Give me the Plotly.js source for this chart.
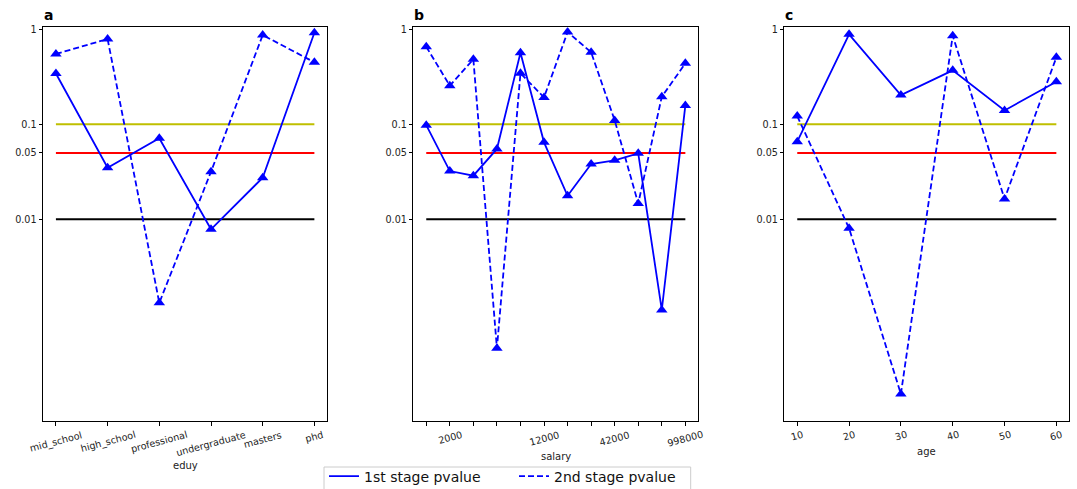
<!DOCTYPE html>
<html>
<head>
<meta charset="utf-8">
<script src="https://cdn.plot.ly/plotly-3.0.1.min.js"></script>
<style>html,body{margin:0;padding:0;background:#fff;}#chart{width:1077px;height:489px;}</style>
</head>
<body>
<div id="chart"></div>
<script>
// ---- data ----
const eduCats = ["mid_school", "high_school", "professional", "undergraduate", "masters", "phd"];
const eduStage1 = [0.343, 0.0349, 0.0712, 0.00785, 0.0274, 0.92];
const eduStage2 = [0.55, 0.79, 0.00132, 0.0317, 0.87, 0.45];

const salaryIdx = [0, 1, 2, 3, 4, 5, 6, 7, 8, 9, 10, 11];
const salaryTickLabels = ["", "2000", "", "", "", "12000", "", "", "42000", "", "", "998000"];
const salaryStage1 = [0.098, 0.0322, 0.0288, 0.055, 0.567, 0.0646, 0.0177, 0.0382, 0.0418, 0.0495, 0.00111, 0.158];
const salaryStage2 = [0.656, 0.255, 0.483, 0.000438, 0.344, 0.192, 0.937, 0.573, 0.110, 0.0147, 0.195, 0.438];

const ages = [10, 20, 30, 40, 50, 60];
const ageStage1 = [0.0656, 0.886, 0.203, 0.37, 0.14, 0.281];
const ageStage2 = [0.122, 0.00804, 0.000145, 0.857, 0.0164, 0.507];

const thresholds = [0.1, 0.05, 0.01];
const thresholdColors = ["#bfbf00", "#ff0000", "#000000"];
const yTickVals = [1, 0.1, 0.05, 0.01];
const yTickText = ["1", "0.1", "0.05", "0.01"];

const panelLetters = ["a", "b", "c"];
const xTitles = ["eduy", "salary", "age"];
const seriesNames = ["1st stage pvalue", "2nd stage pvalue"];

// ---- build ----
const BLUE = "#0000ff";
const font = "DejaVu Sans, sans-serif";
const H = 489, W = 1077;
const TICK = 9.6;
const panels = [
  {x: [0, 1, 2, 3, 4, 5], labels: eduCats, s1: eduStage1, s2: eduStage2, range: [-0.25, 5.25], labY: 427.5},
  {x: salaryIdx, labels: salaryTickLabels, s1: salaryStage1, s2: salaryStage2, range: [-0.55, 11.55], labY: 427.5},
  {x: ages, labels: ages.map(String), s1: ageStage1, s2: ageStage2, range: [7.5, 62.5], labY: 427.5}
];
const doms = [[43/W, 327.3/W], [413.3/W, 698.3/W], [784.3/W, 1069.3/W]];
const yDom = [(H-421)/H, (H-27.3)/H];

const traces = [];
const shapes = [];
const annotations = [];
const layout = {
  width: W, height: H,
  margin: {l: 0, r: 0, t: 0, b: 0, pad: 0, autoexpand: false},
  paper_bgcolor: "#fff", plot_bgcolor: "#fff",
  font: {family: font, size: TICK, color: "#222"},
  showlegend: true,
  legend: {orientation: "h", x: 324 / W, xanchor: "left", y: (H - 460.5) / H, yanchor: "top",
           borderwidth: 0, font: {size: 14, family: font, color: "#111"},
           bgcolor: "rgba(0,0,0,0)", itemwidth: 30, entrywidth: 145},
};

panels.forEach((p, i) => {
  const n = i === 0 ? "" : String(i + 1);
  const xa = "x" + n, ya = "y" + n;
  [p.s1, p.s2].forEach((vals, k) => {
    traces.push({
      x: p.x, y: vals, xaxis: xa, yaxis: ya, type: "scatter", mode: "lines+markers",
      name: seriesNames[k], showlegend: false,
      line: {color: BLUE, width: 1.8, dash: k === 0 ? "solid" : "6px,3px"},
      marker: {symbol: "triangle-up", size: 10, color: BLUE}
    });
  });
  thresholds.forEach((t, j) => {
    shapes.push({type: "line", xref: xa, yref: ya, x0: p.x[0], x1: p.x[p.x.length - 1],
                 y0: t, y1: t, layer: "below", line: {color: thresholdColors[j], width: 2}});
  });
  layout["xaxis" + n] = {
    domain: doms[i], anchor: ya, range: p.range, automargin: false,
    showline: true, mirror: true, linecolor: "#000", linewidth: 1,
    ticks: "outside", ticklen: 3.5, tickcolor: "#000", showgrid: false, zeroline: false,
    tickmode: "array", tickvals: p.x, showticklabels: false
  };
  layout["yaxis" + n] = {
    domain: yDom, anchor: xa, type: "log", range: [Math.log10(7.53e-5), Math.log10(1.05)], automargin: false,
    showline: true, mirror: true, linecolor: "#000", linewidth: 1,
    ticks: "outside", ticklen: 3.5, tickcolor: "#000", showgrid: false, zeroline: false,
    tickmode: "array", tickvals: yTickVals, ticktext: yTickText,
    tickfont: {size: TICK, family: font, color: "#222"}
  };
  p.labels.forEach((lab, k) => {
    if (!lab) return;
    annotations.push({xref: xa, yref: "paper", x: p.x[k], y: (H - p.labY) / H, xanchor: "center", yanchor: "top",
                      text: lab, textangle: -15, showarrow: false, borderpad: 0,
                      font: {size: TICK, family: font, color: "#222"}});
  });
  annotations.push({xref: "paper", yref: "paper", x: doms[i][0], y: (H - 6) / H, xanchor: "left", yanchor: "top",
                    text: "<b>" + panelLetters[i] + "</b>", showarrow: false, borderpad: 0,
                    font: {size: 14, family: font, color: "#000"}});
});
// legend frame (extends past bottom edge as in the reference)
shapes.push({type: "rect", xref: "paper", yref: "paper", x0: 324 / W, x1: 690.7 / W,
             y0: (H - 467) / H, y1: -0.05, line: {color: "#cccccc", width: 1}, fillcolor: "rgba(0,0,0,0)"});
// legend-only line samples
seriesNames.forEach((nm, k) => {
  traces.push({x: [null], y: [null], type: "scatter", mode: "lines", name: nm,
               line: {color: BLUE, width: 1.8, dash: k === 0 ? "solid" : "6px,3px"}});
});
const titleY = [465.7, 456.7, 451];
xTitles.forEach((t, i) => {
  annotations.push({xref: "paper", yref: "paper", x: (doms[i][0] + doms[i][1]) / 2, y: (H - titleY[i]) / H,
                    xanchor: "center", yanchor: "middle", text: t, showarrow: false,
                    font: {size: 10, family: font, color: "#222"}});
});
layout.shapes = shapes;
layout.annotations = annotations;

Plotly.newPlot("chart", traces, layout, {staticPlot: true, displayModeBar: false});
</script>
</body>
</html>
